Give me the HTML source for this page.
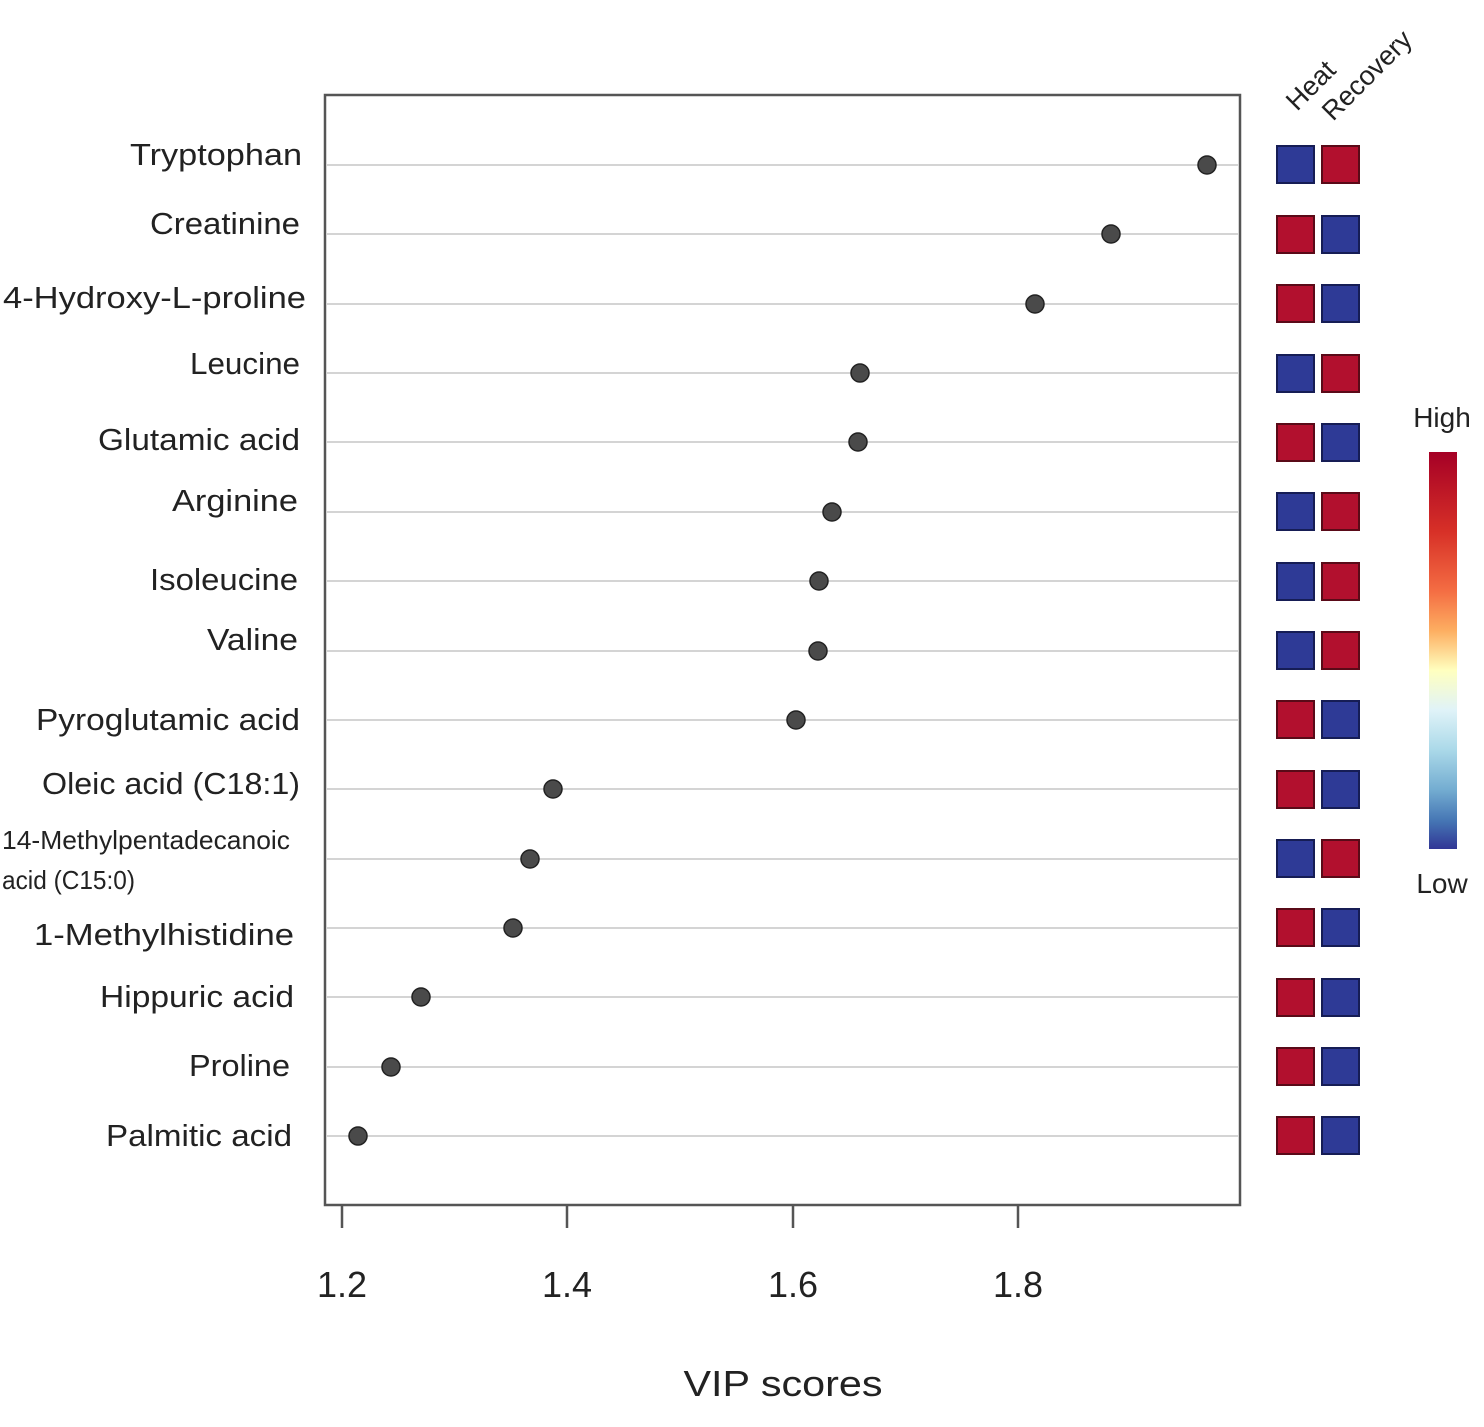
<!DOCTYPE html>
<html><head><style>body{margin:0;background:#fff}svg{display:block}text{font-family:"Liberation Sans",sans-serif;fill:#222}</style></head>
<body>
<svg width="1484" height="1427" viewBox="0 0 1484 1427" xmlns="http://www.w3.org/2000/svg">
<defs>
<linearGradient id="cb" x1="0" y1="0" x2="0" y2="1">
<stop offset="0" stop-color="#a50026"/><stop offset="0.2" stop-color="#d73027"/><stop offset="0.35" stop-color="#f46d43"/><stop offset="0.45" stop-color="#fdae61"/><stop offset="0.55" stop-color="#ffffbf"/><stop offset="0.65" stop-color="#e0f3f8"/><stop offset="0.75" stop-color="#abd9e9"/><stop offset="0.85" stop-color="#74add1"/><stop offset="0.93" stop-color="#4575b4"/><stop offset="1" stop-color="#313695"/>
</linearGradient>
</defs>
<rect x="325" y="95" width="915" height="1110" fill="none" stroke="#555" stroke-width="2.5"/>
<g stroke="#d4d4d4" stroke-width="2">
<line x1="326" x2="1239" y1="165" y2="165"/><line x1="326" x2="1239" y1="234" y2="234"/><line x1="326" x2="1239" y1="304" y2="304"/><line x1="326" x2="1239" y1="373" y2="373"/><line x1="326" x2="1239" y1="442" y2="442"/><line x1="326" x2="1239" y1="512" y2="512"/><line x1="326" x2="1239" y1="581" y2="581"/><line x1="326" x2="1239" y1="651" y2="651"/><line x1="326" x2="1239" y1="720" y2="720"/><line x1="326" x2="1239" y1="789" y2="789"/><line x1="326" x2="1239" y1="859" y2="859"/><line x1="326" x2="1239" y1="928" y2="928"/><line x1="326" x2="1239" y1="997" y2="997"/><line x1="326" x2="1239" y1="1067" y2="1067"/><line x1="326" x2="1239" y1="1136" y2="1136"/>
</g>
<g fill="#4a4a4a" stroke="#222" stroke-width="1.5">
<circle cx="1207" cy="165" r="9"/><circle cx="1111" cy="234" r="9"/><circle cx="1035" cy="304" r="9"/><circle cx="860" cy="373" r="9"/><circle cx="858" cy="442" r="9"/><circle cx="832" cy="512" r="9"/><circle cx="819" cy="581" r="9"/><circle cx="818" cy="651" r="9"/><circle cx="796" cy="720" r="9"/><circle cx="553" cy="789" r="9"/><circle cx="530" cy="859" r="9"/><circle cx="513" cy="928" r="9"/><circle cx="421" cy="997" r="9"/><circle cx="391" cy="1067" r="9"/><circle cx="358" cy="1136" r="9"/>
</g>
<g stroke="#555" stroke-width="2.5">
<line x1="342" x2="342" y1="1205" y2="1228"/><line x1="567" x2="567" y1="1205" y2="1228"/><line x1="793" x2="793" y1="1205" y2="1228"/><line x1="1018" x2="1018" y1="1205" y2="1228"/>
</g>
<g font-size="36" text-anchor="middle" fill="#333">
<text x="342" y="1297">1.2</text><text x="567" y="1297">1.4</text><text x="793" y="1297">1.6</text><text x="1018" y="1297">1.8</text>
<text x="783" y="1396" textLength="199" lengthAdjust="spacingAndGlyphs">VIP scores</text>
</g>
<g font-size="31" text-anchor="end">
<text x="302" y="165" textLength="172" lengthAdjust="spacingAndGlyphs">Tryptophan</text>
<text x="300" y="234" textLength="150" lengthAdjust="spacingAndGlyphs">Creatinine</text>
<text x="306" y="308" textLength="303" lengthAdjust="spacingAndGlyphs">4-Hydroxy-L-proline</text>
<text x="300" y="374" textLength="110" lengthAdjust="spacingAndGlyphs">Leucine</text>
<text x="300" y="450" textLength="202" lengthAdjust="spacingAndGlyphs">Glutamic acid</text>
<text x="298" y="511" textLength="126" lengthAdjust="spacingAndGlyphs">Arginine</text>
<text x="298" y="590" textLength="148" lengthAdjust="spacingAndGlyphs">Isoleucine</text>
<text x="298" y="650" textLength="91" lengthAdjust="spacingAndGlyphs">Valine</text>
<text x="300" y="730" textLength="264" lengthAdjust="spacingAndGlyphs">Pyroglutamic acid</text>
<text x="300" y="794" textLength="258" lengthAdjust="spacingAndGlyphs">Oleic acid (C18:1)</text>
<text x="294" y="945" textLength="260" lengthAdjust="spacingAndGlyphs">1-Methylhistidine</text>
<text x="294" y="1007" textLength="194" lengthAdjust="spacingAndGlyphs">Hippuric acid</text>
<text x="290" y="1076" textLength="101" lengthAdjust="spacingAndGlyphs">Proline</text>
<text x="292" y="1146" textLength="186" lengthAdjust="spacingAndGlyphs">Palmitic acid</text>
</g>
<g font-size="26">
<text x="2" y="849" textLength="288" lengthAdjust="spacingAndGlyphs">14-Methylpentadecanoic</text>
<text x="2" y="889" textLength="133" lengthAdjust="spacingAndGlyphs">acid (C15:0)</text>
</g>
<g stroke-width="2">
<rect x="1277" y="146" width="37" height="37" fill="#2e3a96" stroke="#161d55"/><rect x="1322" y="146" width="37" height="37" fill="#b2102e" stroke="#5a0a18"/>
<rect x="1277" y="216" width="37" height="37" fill="#b2102e" stroke="#5a0a18"/><rect x="1322" y="216" width="37" height="37" fill="#2e3a96" stroke="#161d55"/>
<rect x="1277" y="285" width="37" height="37" fill="#b2102e" stroke="#5a0a18"/><rect x="1322" y="285" width="37" height="37" fill="#2e3a96" stroke="#161d55"/>
<rect x="1277" y="355" width="37" height="37" fill="#2e3a96" stroke="#161d55"/><rect x="1322" y="355" width="37" height="37" fill="#b2102e" stroke="#5a0a18"/>
<rect x="1277" y="424" width="37" height="37" fill="#b2102e" stroke="#5a0a18"/><rect x="1322" y="424" width="37" height="37" fill="#2e3a96" stroke="#161d55"/>
<rect x="1277" y="493" width="37" height="37" fill="#2e3a96" stroke="#161d55"/><rect x="1322" y="493" width="37" height="37" fill="#b2102e" stroke="#5a0a18"/>
<rect x="1277" y="563" width="37" height="37" fill="#2e3a96" stroke="#161d55"/><rect x="1322" y="563" width="37" height="37" fill="#b2102e" stroke="#5a0a18"/>
<rect x="1277" y="632" width="37" height="37" fill="#2e3a96" stroke="#161d55"/><rect x="1322" y="632" width="37" height="37" fill="#b2102e" stroke="#5a0a18"/>
<rect x="1277" y="701" width="37" height="37" fill="#b2102e" stroke="#5a0a18"/><rect x="1322" y="701" width="37" height="37" fill="#2e3a96" stroke="#161d55"/>
<rect x="1277" y="771" width="37" height="37" fill="#b2102e" stroke="#5a0a18"/><rect x="1322" y="771" width="37" height="37" fill="#2e3a96" stroke="#161d55"/>
<rect x="1277" y="840" width="37" height="37" fill="#2e3a96" stroke="#161d55"/><rect x="1322" y="840" width="37" height="37" fill="#b2102e" stroke="#5a0a18"/>
<rect x="1277" y="909" width="37" height="37" fill="#b2102e" stroke="#5a0a18"/><rect x="1322" y="909" width="37" height="37" fill="#2e3a96" stroke="#161d55"/>
<rect x="1277" y="979" width="37" height="37" fill="#b2102e" stroke="#5a0a18"/><rect x="1322" y="979" width="37" height="37" fill="#2e3a96" stroke="#161d55"/>
<rect x="1277" y="1048" width="37" height="37" fill="#b2102e" stroke="#5a0a18"/><rect x="1322" y="1048" width="37" height="37" fill="#2e3a96" stroke="#161d55"/>
<rect x="1277" y="1117" width="37" height="37" fill="#b2102e" stroke="#5a0a18"/><rect x="1322" y="1117" width="37" height="37" fill="#2e3a96" stroke="#161d55"/>
</g>
<g font-size="27">
<text transform="translate(1297,112) rotate(-45)">Heat</text>
<text transform="translate(1333,122) rotate(-45)">Recovery</text>
</g>
<rect x="1429" y="452" width="28" height="397" fill="url(#cb)"/>
<g font-size="28" text-anchor="middle" fill="#333">
<text x="1442" y="427">High</text><text x="1442" y="893">Low</text>
</g>
</svg>
</body></html>
